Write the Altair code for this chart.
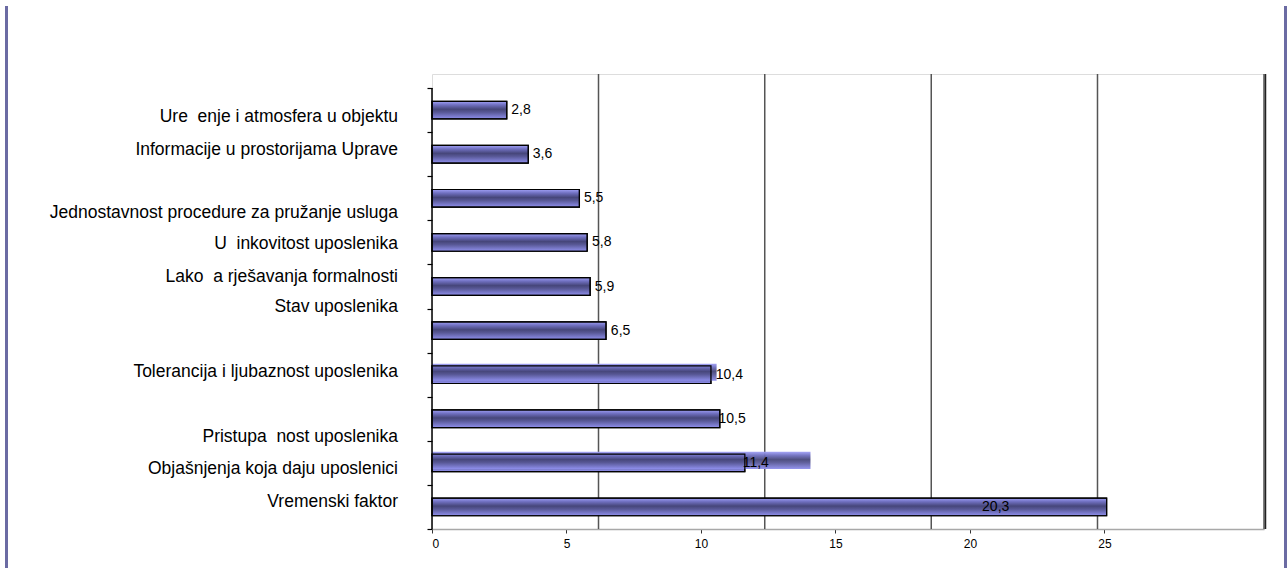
import altair as alt
import pandas as pd

# ---- data ----
categories = [
    "Ure  enje i atmosfera u objektu",
    "Informacije u prostorijama Uprave",
    "Jednostavnost procedure za pružanje usluga",
    "U  inkovitost uposlenika",
    "Lako  a rješavanja formalnosti",
    "Stav uposlenika",
    "Tolerancija i ljubaznost uposlenika",
    "Pristupa  nost uposlenika",
    "Objašnjenja koja daju uposlenici",
    "Vremenski faktor",
]
# vertical slot of each category caption, in category-band units (0 = bottom)
category_slot = [9.34, 8.59, 7.16, 6.46, 5.72, 5.04, 3.57, 2.09, 1.35, 0.62]
# drawn bar lengths (on the axis scale), top to bottom
bar_length = [2.78, 3.58, 5.48, 5.77, 5.88, 6.47, 10.37, 10.70, 11.63, 25.08]
# printed data labels, top to bottom
bar_label = [2.8, 3.6, 5.5, 5.8, 5.9, 6.5, 10.4, 10.5, 11.4, 20.3]
# second (unoutlined) bars that show behind two rows
ghost_length = [None, None, None, None, None, None, 10.58, None, 14.07, None]
x_ticks = [0, 5, 10, 15, 20, 25]
grid_values = [6.19, 12.37, 18.56, 24.74, 30.93]
x_max = 30.93
y_max = 10.32

n = len(bar_length)
bars = pd.DataFrame({
    "len": bar_length,
    "label": bar_label,
    "label_str": [f"{v:.1f}".replace(".", ",") for v in bar_label],
    "mid": [n - 1 - i + 0.5 for i in range(n)],
})
bars["start"] = 0.0
bars["lo"] = bars["mid"] - 0.2
bars["hi"] = bars["mid"] + 0.2

ghosts = pd.DataFrame({
    "len": ghost_length,
    "mid": [n - 1 - i + 0.5 for i in range(n)],
}).dropna()
ghosts["start"] = 0.0
ghosts["lo"] = ghosts["mid"] - 0.14
ghosts["hi"] = ghosts["mid"] + 0.25

cats = pd.DataFrame({
    "cat": [c.replace("  ", "\u00a0\u00a0") for c in categories],
    "slot": category_slot,
})
grid = pd.DataFrame({"g": grid_values})
one = pd.DataFrame({"a": [0]})

FONT = "Liberation Sans"

xscale = alt.Scale(domain=[0, x_max], nice=False, zero=True)
yscale = alt.Scale(domain=[0, y_max], nice=False, zero=False)

xaxis = alt.Axis(values=x_ticks, grid=False, title=None, labelFont=FONT,
                 labelFontSize=12, labelColor="black", tickSize=4,
                 tickColor="#333333", domainColor="#a8a8a8", domainWidth=1.5,
                 labelPadding=5, format="d")
yaxis = alt.Axis(values=list(range(11)), labels=False, grid=False, title=None,
                 domain=False, tickSize=5, tickColor="black", tickWidth=1.2)

gradient = alt.Gradient(
    gradient="linear",
    stops=[
        alt.GradientStop(color="#a0a0f6", offset=0),
        alt.GradientStop(color="#7070c0", offset=0.2),
        alt.GradientStop(color="#46467a", offset=0.45),
        alt.GradientStop(color="#585896", offset=0.62),
        alt.GradientStop(color="#9090ee", offset=1),
    ],
    x1=0, x2=0, y1=0, y2=1,
)

grid_layer = alt.Chart(grid).mark_rule(color="#555555", strokeWidth=1.5).encode(
    x=alt.X("g:Q", scale=xscale, axis=xaxis)
)

bar_layer = alt.Chart(bars).mark_rect(fill=gradient, stroke="black", strokeWidth=1.2).encode(
    x=alt.X("start:Q", scale=xscale, axis=xaxis),
    x2="len:Q",
    y=alt.Y("lo:Q", scale=yscale, axis=yaxis),
    y2="hi:Q",
)

ghost_layer = alt.Chart(ghosts).mark_rect(fill=gradient, opacity=0.95).encode(
    x=alt.X("start:Q", scale=xscale, axis=xaxis),
    x2="len:Q",
    y=alt.Y("lo:Q", scale=yscale, axis=yaxis),
    y2="hi:Q",
)

outline_layer = alt.Chart(bars).mark_rect(fillOpacity=0, stroke="black", strokeWidth=1.2).encode(
    x=alt.X("start:Q", scale=xscale, axis=xaxis),
    x2="len:Q",
    y=alt.Y("lo:Q", scale=yscale, axis=yaxis),
    y2="hi:Q",
)

label_layer = alt.Chart(bars).mark_text(
    align="left", baseline="middle", dx=4, fontSize=14, font=FONT, color="black"
).encode(
    x=alt.X("label:Q", scale=xscale, axis=xaxis),
    y=alt.Y("mid:Q", scale=yscale, axis=yaxis),
    text="label_str:N",
)

cat_layer = alt.Chart(cats).mark_text(
    align="right", baseline="middle", fontSize=17.5, font=FONT, color="black"
).encode(
    x=alt.value(-34),
    y=alt.Y("slot:Q", scale=yscale, axis=yaxis),
    text="cat:N",
)

left_axis = alt.Chart(one).mark_rule(color="black", strokeWidth=1.5).encode(
    x=alt.datum(0, scale=xscale, axis=xaxis),
    y=alt.datum(0, scale=yscale, axis=yaxis),
    y2=alt.datum(10),
)

right_edge = alt.Chart(one).mark_rule(color="#222222", strokeWidth=1.5).encode(
    x=alt.value(833.5), y=alt.value(0), y2=alt.value(455)
)

frame_left = alt.Chart(one).mark_rule(color="#6b6ba3", strokeWidth=3).encode(
    x=alt.value(-425.5), y=alt.value(-68), y2=alt.value(494)
)
frame_right = alt.Chart(one).mark_rule(color="#6b6ba3", strokeWidth=3).encode(
    x=alt.value(853.5), y=alt.value(-68), y2=alt.value(494)
)

chart = alt.layer(
    grid_layer, bar_layer, ghost_layer, outline_layer, label_layer, cat_layer,
    left_axis, right_edge, frame_left, frame_right,
).properties(
    width=832, height=455,
    autosize=alt.AutoSizeParams(type="none"),
    padding={"left": 432, "top": 74, "right": 23, "bottom": 39},
).configure_view(
    stroke="#8a8a8a", strokeWidth=1.5
).configure(background="white")

chart.save("out.html", embed_options={"renderer": "svg", "actions": False})
